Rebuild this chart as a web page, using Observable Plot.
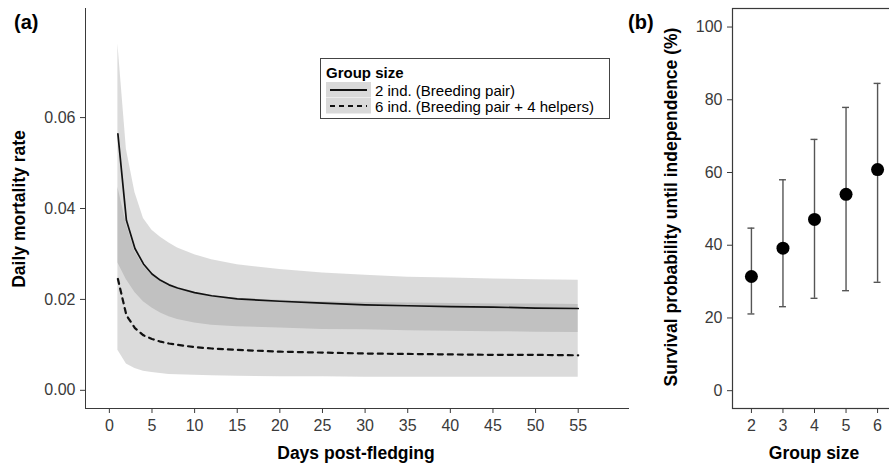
<!DOCTYPE html>
<html><head><meta charset="utf-8">
<script src="https://cdn.jsdelivr.net/npm/d3@7"></script>
<script src="https://cdn.jsdelivr.net/npm/@observablehq/plot@0.6"></script>
<style>
body{margin:0;background:#fff;overflow:hidden;}
#wrap{position:relative;width:889px;height:467px;overflow:hidden;font-family:"Liberation Sans",Arial,sans-serif;background:#fff;}
.abs{position:absolute;white-space:nowrap;line-height:1;}
.ttl{font-weight:bold;font-size:17.5px;color:#000;}
.panel{font-weight:bold;font-size:20px;color:#000;}
.plotA,.plotB{position:absolute;top:0;}
.plotA{left:0;} .plotB{left:640px;}
#legend{position:absolute;left:320px;top:58px;width:288px;height:59px;border:1.3px solid #444;background:#fff;}
#legend .lt{position:absolute;white-space:nowrap;line-height:1;}
</style></head><body><div id="wrap"></div>
<script>
// ---- Panel (a): daily mortality rate vs days post-fledging ----
const days = [1,2,3,4,5,6,7,8,10,12,15,20,25,30,35,40,45,50,55];
const est2 = [0.0564,0.0374,0.0312,0.0278,0.0256,0.0242,0.0232,0.0225,0.0215,0.0208,0.0201,0.0196,0.0192,0.0188,0.0186,0.0184,0.0183,0.0181,0.0180];
const hi2  = [0.0762,0.0530,0.0435,0.0378,0.0352,0.0337,0.0324,0.0313,0.0298,0.0287,0.0276,0.0266,0.0258,0.0253,0.0249,0.0247,0.0245,0.0243,0.0242];
const lo2  = [0.0280,0.0243,0.0215,0.0195,0.0181,0.0170,0.0162,0.0156,0.0148,0.0143,0.0140,0.0137,0.0134,0.0133,0.0131,0.0130,0.0129,0.0128,0.0127];
const est6 = [0.0245,0.0165,0.0137,0.0121,0.0113,0.0107,0.0103,0.0100,0.0095,0.0092,0.0089,0.0085,0.0083,0.0081,0.0080,0.0079,0.0078,0.0078,0.0077];
const hi6  = [0.0447,0.0365,0.0305,0.0273,0.0253,0.0240,0.0230,0.0223,0.0214,0.0208,0.0202,0.0198,0.0195,0.0193,0.0192,0.0191,0.0190,0.0190,0.0189];
const lo6  = [0.0088,0.0058,0.0048,0.0042,0.0039,0.0037,0.0035,0.0034,0.0033,0.0032,0.0031,0.0030,0.0030,0.0029,0.0029,0.0029,0.0029,0.0029,0.0029];
const xTicksA = [0,5,10,15,20,25,30,35,40,45,50,55];
const yTicksA = [0,0.02,0.04,0.06];
const legendTitle = "Group size";
const legendLabels = ["2 ind. (Breeding pair)","6 ind. (Breeding pair + 4 helpers)"];

// ---- Panel (b): survival probability until independence ----
const groupSizes = [2,3,4,5,6];
const survival = [31.4,39.2,47.1,54.0,60.8];
const survLo   = [21.1,23.1,25.4,27.5,29.8];
const survHi   = [44.7,58.0,69.1,77.9,84.5];
const yTicksB = [0,20,40,60,80,100];

const wrap = document.getElementById("wrap");
const baseStyle = {fontFamily:"Liberation Sans, Arial, sans-serif", fontSize:"16px", color:"#3a3a3a", background:"transparent", overflow:"visible"};

const rowsA = days.map((d,i)=>({day:d, est2:est2[i], lo2:lo2[i], hi2:hi2[i], est6:est6[i], lo6:lo6[i], hi6:hi6[i]}));
const plotA = Plot.plot({
  width:640, height:467, marginLeft:85, marginRight:12, marginTop:8, marginBottom:59,
  style: baseStyle,
  x:{domain:[-2.8,60.9], ticks:xTicksA, tickSize:5, tickPadding:6, label:null, line:true, tickFormat:d=>String(d)},
  y:{domain:[-0.004,0.084], ticks:yTicksA, tickSize:5, tickPadding:5, label:null, line:true, tickFormat:d=>d.toFixed(2)},
  marks:[
    Plot.areaY(rowsA,{x:"day", y1:"lo2", y2:"hi2", fill:"#7f7f7f", fillOpacity:0.28}),
    Plot.areaY(rowsA,{x:"day", y1:"lo6", y2:"hi6", fill:"#7f7f7f", fillOpacity:0.28}),
    Plot.line(rowsA,{x:"day", y:"est2", stroke:"#111", strokeWidth:1.7}),
    Plot.line(rowsA,{x:"day", y:"est6", stroke:"#111", strokeWidth:2.2, strokeDasharray:"5,5"})
  ]
});
plotA.classList.add("plotA");
wrap.appendChild(plotA);

const rowsB = groupSizes.map((g,i)=>({g, s:survival[i], lo:survLo[i], hi:survHi[i]}));
const capHalf = 0.11;
const plotB = Plot.plot({
  width:260, height:467, marginLeft:92, marginRight:4, marginTop:8, marginBottom:59,
  style: baseStyle,
  x:{domain:[1.4,6.6], ticks:groupSizes, tickSize:5, tickPadding:6, label:null, tickFormat:d=>String(d)},
  y:{domain:[-4.9,105.1], ticks:yTicksB, tickSize:5, tickPadding:5, label:null, tickFormat:d=>String(d)},
  marks:[
    Plot.frame({stroke:"#3a3a3a", strokeWidth:1.2}),
    Plot.ruleX(rowsB,{x:"g", y1:"lo", y2:"hi", stroke:"#555", strokeWidth:1.4}),
    Plot.ruleY(rowsB,{y:"lo", x1:d=>d.g-capHalf, x2:d=>d.g+capHalf, stroke:"#555", strokeWidth:1.4}),
    Plot.ruleY(rowsB,{y:"hi", x1:d=>d.g-capHalf, x2:d=>d.g+capHalf, stroke:"#555", strokeWidth:1.4}),
    Plot.dot(rowsB,{x:"g", y:"s", r:6.5, fill:"#000", stroke:"none"})
  ]
});
plotB.classList.add("plotB");
wrap.appendChild(plotB);

function addText(txt, cls, left, top, transform){
  const d = document.createElement("div");
  d.className = "abs " + cls;
  d.textContent = txt;
  d.style.left = left + "px";
  d.style.top = top + "px";
  if (transform) d.style.transform = transform;
  wrap.appendChild(d);
  return d;
}
addText("(a)", "panel", 14, 12);
addText("(b)", "panel", 628, 12);
addText("Days post-fledging", "ttl", 356, 454, "translate(-50%,-50%)");
addText("Daily mortality rate", "ttl", 20, 209, "translate(-50%,-50%) rotate(-90deg)");
addText("Group size", "ttl", 814, 454, "translate(-50%,-50%)");
addText("Survival probability until independence (%)", "ttl", 672, 207, "translate(-50%,-50%) rotate(-90deg)");

// legend
const leg = document.createElement("div");
leg.id = "legend";
wrap.appendChild(leg);
function legText(txt, left, top, bold){
  const d = document.createElement("div");
  d.className = "lt";
  d.textContent = txt;
  d.style.left = left+"px"; d.style.top = top+"px";
  d.style.fontSize = "15px";
  d.style.color = "#000";
  if (bold) d.style.fontWeight = "bold";
  leg.appendChild(d);
}
legText(legendTitle, 5, 6, true);
const dashes = [null, "5,4"];
legendLabels.forEach((lab,i)=>{
  const top = 23 + i*16.3;
  const sw = document.createElementNS("http://www.w3.org/2000/svg","svg");
  sw.setAttribute("width","45"); sw.setAttribute("height","15.5");
  sw.style.position="absolute"; sw.style.left="5px"; sw.style.top=top+"px";
  sw.innerHTML = `<rect x="0" y="0" width="45" height="15.5" fill="#d9d9d9"/><line x1="4" x2="41" y1="8" y2="8" stroke="#111" stroke-width="${i?2.2:1.8}" ${dashes[i]?`stroke-dasharray="${dashes[i]}"`:""}/>`;
  leg.appendChild(sw);
  legText(lab, 54, top+0.5, false);
});
</script></body></html>
